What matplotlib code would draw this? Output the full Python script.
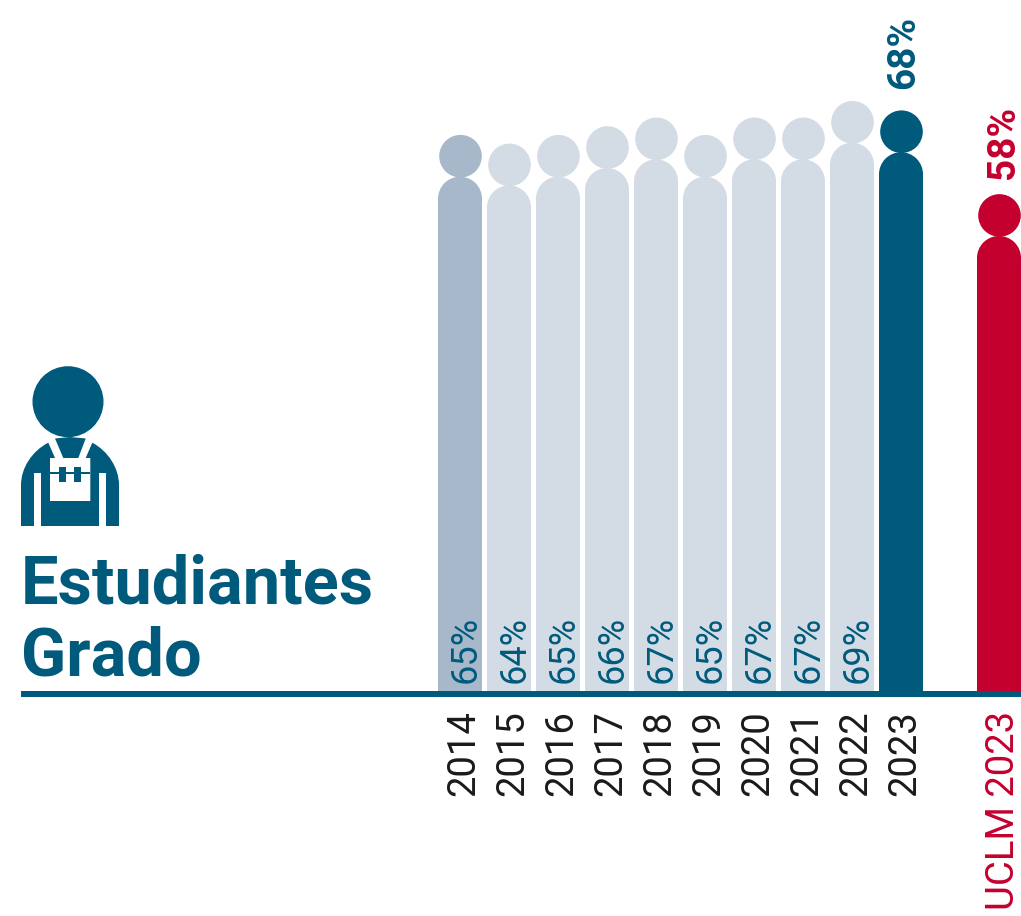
import matplotlib
matplotlib.use("Agg")
import matplotlib.pyplot as plt
from matplotlib.patches import Ellipse, Circle, Polygon, Rectangle, PathPatch
from matplotlib.path import Path

plt.rcParams['font.family'] = ['Roboto', 'DejaVu Sans']

# Values
years = ["2014", "2015", "2016", "2017", "2018", "2019", "2020", "2021", "2022", "2023", "UCLM 2023"]
slots = [0, 1, 2, 3, 4, 5, 6, 7, 8, 9, 11]
heights = [65.1, 64.0, 65.1, 66.2, 67.3, 65.1, 67.3, 67.3, 69.4, 68.2, 57.6]
labels = ["65%", "64%", "65%", "66%", "67%", "65%", "67%", "67%", "69%", "68%", "58%"]

blue = "#005A7C"
red = "#C4002F"
pale = "#D3DBE5"
mid = "#A6B8CA"
colors = [mid] + [pale] * 8 + [blue, red]
text_colors = ["#1A1A1A"] * 10 + [red]

W, H = 1021, 916
px_x = 49.0     # pixels per slot
px_y = 7.9      # pixels per percent
x0, y0 = 460.0, 691.0

fig = plt.figure(figsize=(W / 100, H / 100), dpi=100)
ax = fig.add_axes([0, 0, 1, 1])
ax.set_xlim(-x0 / px_x, (W - x0) / px_x)
ax.set_ylim((y0 - H) / px_y, y0 / px_y)
ax.axis("off")

bar_w = 44 / px_x
rx, ry = 22 / px_x, 22 / px_y
hx, hy = 21.3 / px_x, 21.3 / px_y

for s, h, c in zip(slots, heights, colors):
    # body: bar plus rounded top, then the head above it
    ax.bar(s, h - ry, width=bar_w, color=c, linewidth=0)
    ax.add_patch(Ellipse((s, h - ry), 2 * rx, 2 * ry, color=c, linewidth=0))
    ax.add_patch(Ellipse((s + 0.5 / px_x, h + hy - 0.1), 2 * hx, 2 * hy, color=c, linewidth=0))

# Value labels: inside the bars, bold above the last two
for s, lab in zip(slots[:9], labels[:9]):
    ax.text(s + 5.5 / px_x, 8 / px_y, lab, rotation=90, ha="center", va="bottom",
            fontsize=26, color=blue)
for s, h, lab, c, off in zip(slots[9:], heights[9:], labels[9:], [blue, red], [63, 57]):
    ax.text(s + 3 / px_x if c == blue else s + 5 / px_x, h + off / px_y, lab, rotation=90, ha="center", va="bottom",
            fontsize=28, fontweight="bold", color=c)

# Year labels under the line
for s, y, c in zip(slots, years, text_colors):
    ax.text(s + 4 / px_x, -19.5 / px_y, y, rotation=90, ha="center", va="top",
            fontsize=27.5, color=c)

# Overlay in picture pixels for the baseline, icon and heading
ov = fig.add_axes([0, 0, 1, 1], facecolor="none")
ov.set_xlim(0, W)
ov.set_ylim(H, 0)
ov.axis("off")

ov.add_patch(Rectangle((21, 691), 1000, 5.6, color=blue, linewidth=0))

# Worker icon
ov.add_patch(Circle((68, 401.7), 35.5, color=blue, linewidth=0))
body = [
    (Path.MOVETO, (21, 526)), (Path.LINETO, (21, 485)),
    (Path.CURVE4, (21, 468)), (Path.CURVE4, (32, 451)), (Path.CURVE4, (48.3, 442.7)),
    (Path.LINETO, (55, 458)), (Path.LINETO, (50, 458)), (Path.LINETO, (50, 501)),
    (Path.LINETO, (90.3, 501)), (Path.LINETO, (90.3, 458)), (Path.LINETO, (85.7, 458)),
    (Path.LINETO, (92.3, 442.7)),
    (Path.CURVE4, (108, 451)), (Path.CURVE4, (119, 468)), (Path.CURVE4, (119, 485)),
    (Path.LINETO, (119, 526)), (Path.CLOSEPOLY, (21, 526)),
]
codes, verts = zip(*body)
ov.add_patch(PathPatch(Path(verts, codes), facecolor=blue, linewidth=0))
ov.add_patch(Polygon([(55, 438.5), (70, 437), (85.7, 438.5), (78.3, 458), (63.3, 458)], color=blue, linewidth=0))
for bx in (34, 99):
    ov.add_patch(Rectangle((bx, 472.7), 7, 54, color="white", linewidth=0))
ov.add_patch(Rectangle((50, 472.3), 40.3, 2, color=blue, linewidth=0))
for bx in (59.3, 74.3):
    ov.add_patch(Rectangle((bx, 466.7), 6.7, 15, color=blue, linewidth=0))

# Heading
ov.text(21, 603, "Estudiantes", fontsize=48, fontweight="bold", color=blue, ha="left", va="baseline")
ov.text(21, 675.7, "Grado", fontsize=48, fontweight="bold", color=blue, ha="left", va="baseline")

fig.savefig("out.png", dpi=100)
